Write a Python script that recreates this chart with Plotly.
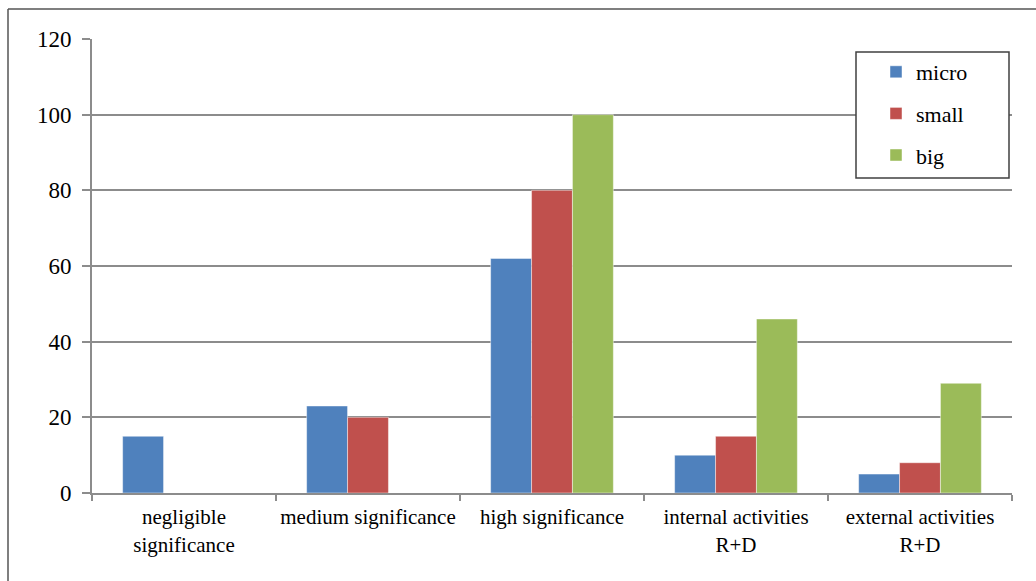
import plotly.graph_objects as go

# Categories and values per enterprise size
categories = ["negligible<br>significance", "medium significance", "high significance",
              "internal activities<br>R+D", "external activities<br>R+D"]
micro = [15, 23, 62, 10, 5]
small = [0, 20, 80, 15, 8]
big = [0, 0, 100, 46, 29]

series = [("micro", micro, "#4F81BD"), ("small", small, "#C0504D"), ("big", big, "#9BBB59")]

W, H = 1036, 581
L, R, T, B = 92, 1012, 39, 493  # plot area in pixels


def px_x(x):
    return (x - L) / (R - L)


def px_y(y):
    return (B - y) / (B - T)


fig = go.Figure()
for i, (name, vals, color) in enumerate(series):
    fig.add_trace(go.Bar(
        x=categories, y=vals, name=name, legendgroup=name,
        marker=dict(color=color, line=dict(color="rgba(255,255,255,0.45)", width=1)),
    ))

font_family = "'Liberation Serif'"

fig.update_layout(
    width=W, height=H,
    margin=dict(l=L, r=W - R, t=T, b=H - B),
    paper_bgcolor="white", plot_bgcolor="white",
    barmode="group", bargap=0.333, bargroupgap=0,
    font=dict(family=font_family, color="black"),
    showlegend=True,
    legend=dict(
        x=px_x(876), y=px_y(51), xanchor="left", yanchor="top",
        bgcolor="rgba(0,0,0,0)", borderwidth=0,
        font=dict(size=22, family=font_family),
        tracegroupgap=10, itemwidth=30,
    ),
    xaxis=dict(
        showline=True, linecolor="#8c8c8c", linewidth=2,
        ticks="outside", tickson="boundaries", ticklen=6, tickcolor="#8c8c8c", tickwidth=2,
        tickfont=dict(size=21, family=font_family), showgrid=False,
        ticklabelstandoff=4, tickangle=0, automargin=False,
    ),
    yaxis=dict(
        range=[0, 120], dtick=20, tick0=0,
        showline=True, linecolor="#8c8c8c", linewidth=2,
        ticks="outside", ticklen=8, tickcolor="#8c8c8c", tickwidth=2,
        showgrid=True, gridcolor="#8c8c8c", gridwidth=2,
        tickfont=dict(size=23, family=font_family), zeroline=False,
        ticklabelstandoff=6, automargin=False,
    ),
    shapes=[
        # legend box
        dict(type="rect", xref="paper", yref="paper",
             x0=px_x(856), x1=px_x(1009), y0=px_y(52), y1=px_y(178),
             fillcolor="white", line=dict(color="#404040", width=1.5), layer="above"),
        # outer frame (top and left edges)
        dict(type="line", xref="paper", yref="paper",
             x0=px_x(8), x1=px_x(W), y0=px_y(9), y1=px_y(9),
             line=dict(color="#555555", width=1.5)),
        dict(type="line", xref="paper", yref="paper",
             x0=px_x(8), x1=px_x(8), y0=px_y(9), y1=px_y(H),
             line=dict(color="#555555", width=1.5)),
    ],
)

fig.write_html("out.html")
